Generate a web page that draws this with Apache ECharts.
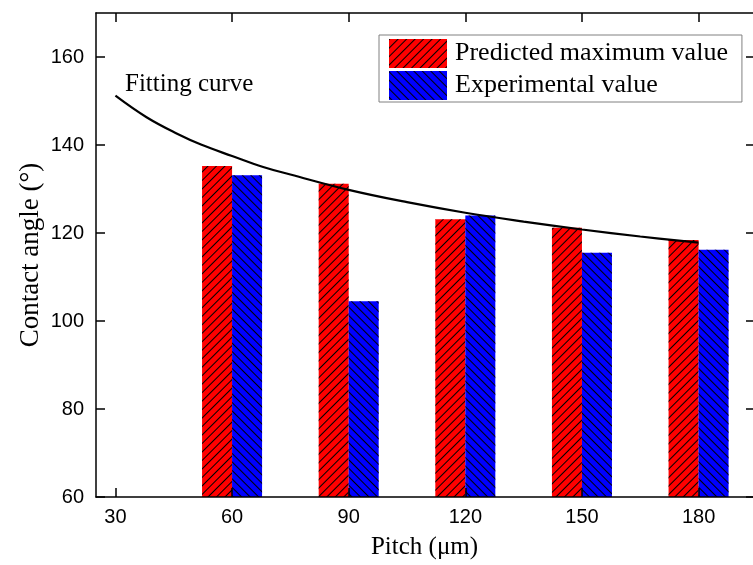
<!DOCTYPE html>
<html>
<head>
<meta charset="utf-8">
<script src="https://cdn.jsdelivr.net/npm/echarts@6/dist/echarts.min.js"></script>
<style>
html,body{margin:0;padding:0;background:#fff;}
#c{width:753px;height:565px;}
</style>
</head>
<body>
<div id="c"></div>
<script>
// Data
var pitches = [60, 90, 120, 150, 180];
var predicted = [135.2, 131.2, 123.1, 121.2, 118.4];
var experimental = [133.1, 104.5, 124.0, 115.5, 116.2];
var curveX = [30, 38, 46, 52, 60, 68, 75, 90, 105, 120, 135, 150, 165, 180];
var curveY = [151.2, 146.3, 142.5, 140.1, 137.5, 135.0, 133.3, 129.8, 127.0, 124.6, 122.6, 120.8, 119.2, 117.8];
var xTicks = [30, 60, 90, 120, 150, 180];
var yTicks = [60, 80, 100, 120, 140, 160];
var seriesNames = ['Predicted maximum value', 'Experimental value'];
var xTitle = 'Pitch (\u03bcm)';
var yTitle = 'Contact angle (\u00b0)';
var curveLabel = 'Fitting curve';

var serif = '"Liberation Serif", "Times New Roman", serif';
var sans = '"Liberation Sans", Arial, sans-serif';

function pairs(xs, ys) { return xs.map(function (x, i) { return [x, ys[i]]; }); }

var axisLineStyle = { color: '#000', width: 1.5 };
var tickStyle = { color: '#000', width: 1.5 };

var chart = echarts.init(document.getElementById('c'), null, { renderer: 'canvas' });
chart.setOption({
  animation: false,
  backgroundColor: '#fff',
  grid: { left: 96, top: 13, right: 0, bottom: 67, containLabel: false },
  legend: {
    orient: 'vertical',
    left: 379, top: 35,
    padding: [4, 14, 2, 10],
    borderColor: '#808080', borderWidth: 1,
    itemWidth: 58, itemHeight: 29, itemGap: 3,
    icon: 'rect',
    data: seriesNames,
    textStyle: { fontFamily: serif, fontSize: 26, color: '#000', lineHeight: 29, padding: [0, 0, 0, 3] }
  },
  xAxis: [{
    type: 'value', min: 25, max: 194, position: 'bottom', z: 10,
    name: xTitle, nameLocation: 'middle', nameGap: 38,
    nameTextStyle: { fontFamily: serif, fontSize: 25, color: '#000' },
    axisLine: { show: true, onZero: false, lineStyle: axisLineStyle },
    axisTick: { show: true, inside: true, length: 9, lineStyle: tickStyle, customValues: xTicks },
    axisLabel: { customValues: xTicks, margin: 10, fontFamily: sans, fontSize: 20, color: '#000' },
    splitLine: { show: false }
  }, {
    type: 'value', min: 25, max: 194, position: 'top', z: 10,
    axisLine: { show: true, onZero: false, lineStyle: axisLineStyle },
    axisTick: { show: true, inside: true, length: 9, lineStyle: tickStyle, customValues: xTicks },
    axisLabel: { show: false },
    splitLine: { show: false }
  }],
  yAxis: [{
    type: 'value', min: 60, max: 170, position: 'left', z: 10,
    name: yTitle, nameLocation: 'middle', nameGap: 52, nameRotate: 90, nameMoveOverlap: false,
    nameTextStyle: { fontFamily: serif, fontSize: 27, color: '#000' },
    axisLine: { show: true, onZero: false, lineStyle: axisLineStyle },
    axisTick: { show: true, inside: true, length: 9, lineStyle: tickStyle, customValues: yTicks },
    axisLabel: { customValues: yTicks, margin: 12, fontFamily: sans, fontSize: 20, color: '#000' },
    splitLine: { show: false }
  }, {
    type: 'value', min: 60, max: 170, position: 'right', z: 10,
    axisLine: { show: false, onZero: false, lineStyle: axisLineStyle },
    axisTick: { show: true, inside: true, length: 7, lineStyle: tickStyle, customValues: yTicks },
    axisLabel: { show: false },
    splitLine: { show: false }
  }],
  graphic: [{
    type: 'text', left: 125, top: 72, z: 20,
    style: { text: curveLabel, fontFamily: serif, fontSize: 25, fill: '#000' }
  }],
  series: [{
    name: seriesNames[0], type: 'bar', barWidth: 30, barGap: '0%',
    data: pairs(pitches, predicted),
    itemStyle: {
      color: '#ff0000',
      decal: { symbol: 'rect', symbolSize: 1, color: '#000', dashArrayX: [1, 0], dashArrayY: [1, 4.5], rotation: -Math.PI / 4 }
    }
  }, {
    name: seriesNames[1], type: 'bar', barWidth: 30, barGap: '0%',
    data: pairs(pitches, experimental),
    itemStyle: {
      color: '#0000ff',
      decal: { symbol: 'rect', symbolSize: 1, color: '#000', dashArrayX: [1, 0], dashArrayY: [1, 4.5], rotation: Math.PI / 4 }
    }
  }, {
    name: 'curve', type: 'line', smooth: 0.4, showSymbol: false, z: 5,
    data: pairs(curveX, curveY),
    lineStyle: { color: '#000', width: 2.2 }
  }]
});
</script>
</body>
</html>
